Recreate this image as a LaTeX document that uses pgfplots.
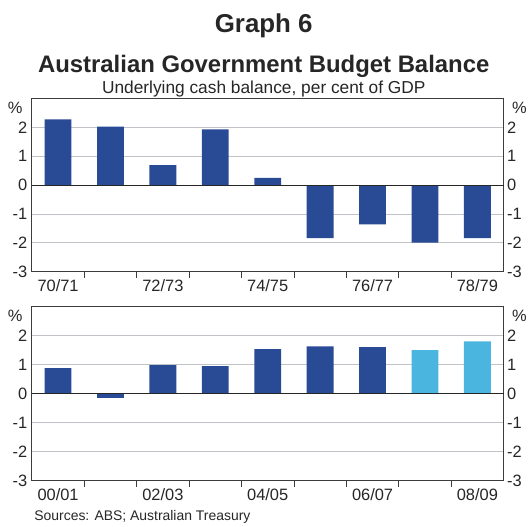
\documentclass[border=0pt]{standalone}
\usepackage{pgfplots}
\pgfplotsset{compat=1.18}
\usepackage{fontspec}
\setmainfont{Liberation Sans}

\definecolor{rbadark}{RGB}{41,74,149}
\definecolor{rbalight}{RGB}{74,182,223}
\definecolor{gridgrey}{RGB}{192,196,200}
\definecolor{boxgrey}{RGB}{60,60,60}

\newcommand{\tickfont}{\fontsize{16.5}{16.5}\selectfont}

\pgfplotsset{
  panel/.style={
    scale only axis, width=474pt, height=174pt,
    xmin=-0.5, xmax=8.5, ymin=-3, ymax=3,
    ytick={-3,-2,-1,0,1,2}, ymajorgrids,
    major grid style={gridgrey, line width=0.8pt},
    ytick style={draw=none},
    axis line style={boxgrey, line width=1.1pt},
    xtick={0.5,1.5,...,7.5}, xticklabels={},
    xtick pos=bottom, tick align=inside,
    major tick length=6pt,
    xtick style={boxgrey, line width=0.8pt},
    extra x ticks={0,2,4,6,8},
    extra x tick style={major tick length=0pt, xticklabel style={yshift=-4pt}},
    tick label style={font=\tickfont, text=black!85},
    yticklabel style={xshift=-1pt},
    /pgf/number format/assume math mode=true,
    ybar, bar width=27pt,
    clip=false,
  },
  rightlabels/.style={
    scale only axis, width=474pt, height=174pt,
    xmin=-0.5, xmax=8.5, ymin=-3, ymax=3,
    hide x axis, axis y line*=right,
    y axis line style={draw=none}, ytick style={draw=none},
    ytick={-3,-2,-1,0,1,2},
    tick label style={font=\tickfont, text=black!85},
    yticklabel style={xshift=0pt},
    /pgf/number format/assume math mode=true,
  },
}

\begin{document}
\begin{tikzpicture}[x=1pt,y=1pt]
\path (0,0) rectangle (530,-524);

\node[font=\fontsize{26}{26}\selectfont\bfseries, text=black!85] at (265,-26) {Graph 6};
\node[font=\fontsize{24}{24}\selectfont\bfseries, text=black!85] at (265,-67) {Australian Government Budget Balance};
\node[font=\fontsize{17.4}{17.4}\selectfont, text=black!85] at (265,-89) {Underlying cash balance, per cent of GDP};

% 1970s
\begin{axis}[panel, at={(32pt,-273pt)}, anchor=south west,
  extra x tick labels={70/71,72/73,74/75,76/77,78/79}]
  \addplot[fill=rbadark, draw=none, bar shift=0pt] coordinates {
    (0,2.28) (1,2.03) (2,0.69) (3,1.93) (4,0.25)
    (5,-1.84) (6,-1.36) (7,-1.99) (8,-1.84)};
  \draw[black!85, line width=1pt] (axis cs:-0.5,0) -- (axis cs:8.5,0);
  \node[anchor=north east, font=\tickfont, text=black!85] at (rel axis cs:0,1) [xshift=-6pt, yshift=0pt] {\%};
  \node[anchor=north west, font=\tickfont, text=black!85] at (rel axis cs:1,1) [xshift=5pt, yshift=0pt] {\%};
\end{axis}
\begin{axis}[rightlabels, at={(32pt,-273pt)}, anchor=south west]
\end{axis}

% 2000s
\begin{axis}[panel, at={(32pt,-483pt)}, anchor=south west, height=175pt,
  extra x tick labels={00/01,02/03,04/05,06/07,08/09}]
  \addplot[fill=rbadark, draw=none, bar shift=0pt] coordinates {
    (0,0.88) (1,-0.15) (2,0.98) (3,0.95) (4,1.53) (5,1.63) (6,1.60)};
  \addplot[fill=rbalight, draw=none, bar shift=0pt] coordinates {
    (7,1.50) (8,1.80)};
  \draw[black!85, line width=1pt] (axis cs:-0.5,0) -- (axis cs:8.5,0);
  \node[anchor=north east, font=\tickfont, text=black!85] at (rel axis cs:0,1) [xshift=-6pt, yshift=0pt] {\%};
  \node[anchor=north west, font=\tickfont, text=black!85] at (rel axis cs:1,1) [xshift=5pt, yshift=0pt] {\%};
\end{axis}
\begin{axis}[rightlabels, at={(32pt,-483pt)}, anchor=south west, height=175pt]
\end{axis}

\node[anchor=west, font=\fontsize{14}{14}\selectfont, text=black!85] at (31,-519) {Sources: ABS; Australian Treasury};
\end{tikzpicture}
\end{document}
